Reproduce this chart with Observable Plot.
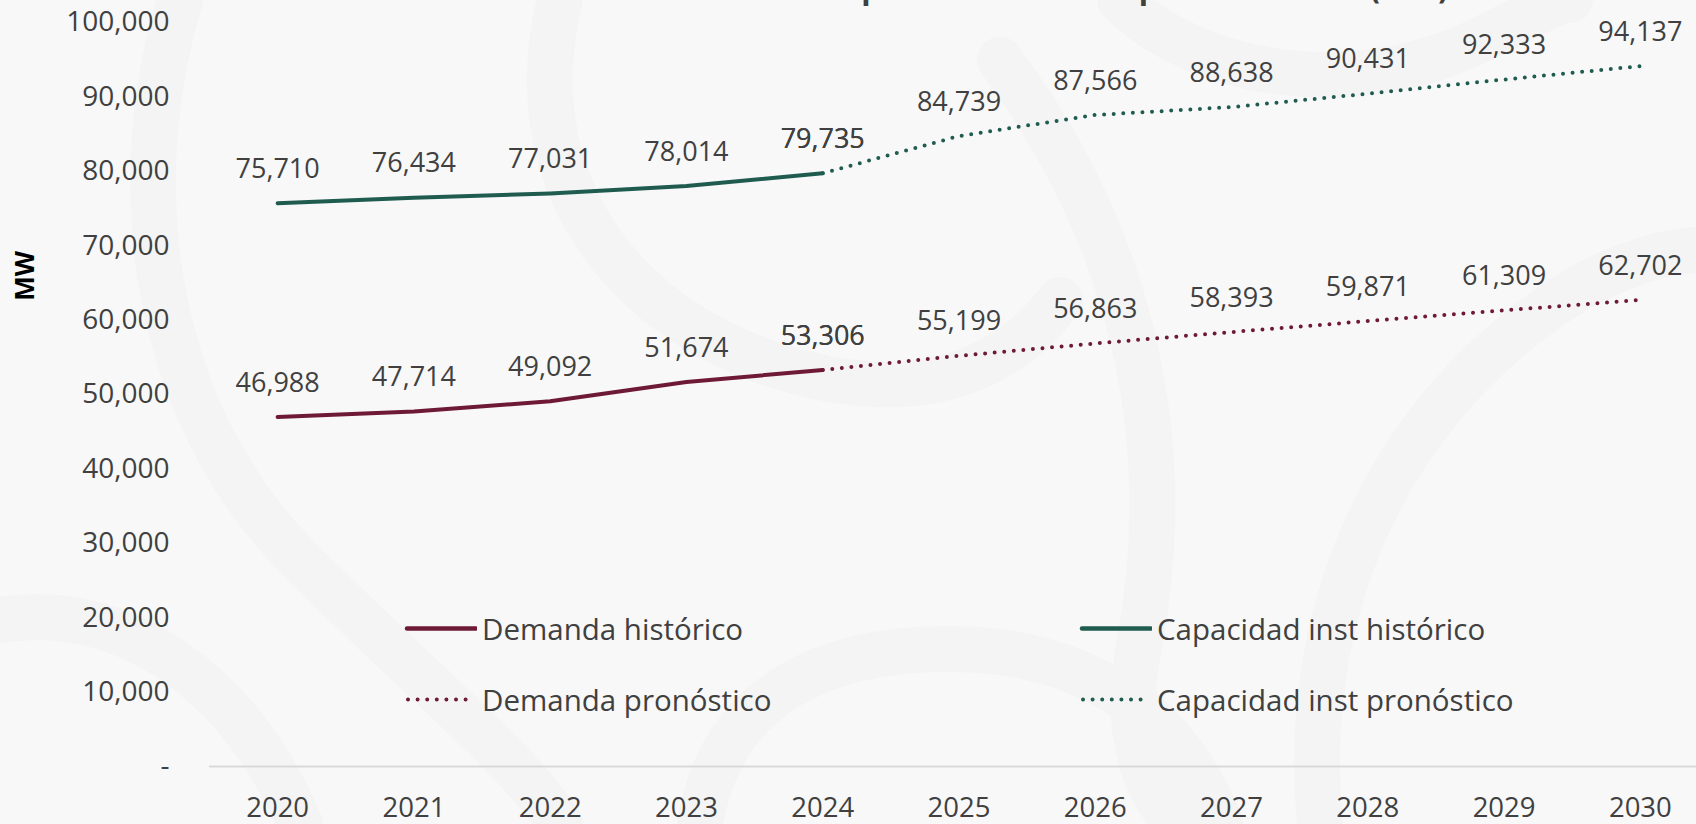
<!DOCTYPE html>
<html>
<head>
<meta charset="utf-8">
<script src="https://cdn.jsdelivr.net/npm/d3@7"></script>
<script src="https://cdn.jsdelivr.net/npm/@observablehq/plot@0.6"></script>
<style>
  html, body { margin: 0; padding: 0; background: #f8f8f8; overflow: hidden; }
  body { width: 1696px; height: 824px; position: relative; font-family: 'Open Sans', sans-serif; color: #404040; }
  #bg { position: absolute; left: 0; top: 0; }
  #chart { position: absolute; left: 0; top: 0; }
  #titlebox { position: absolute; left: 0; top: 0; }
  #mw { position: absolute; left: 24px; top: 276px; transform: translate(-50%, -50%) rotate(-90deg);
        font-size: 26px; font-weight: 700; color: #000; white-space: nowrap; }
  .leg { position: absolute; display: flex; align-items: center; font-size: 29.5px; color: #404040; white-space: nowrap; transform: translateY(-50%); }
  .leg svg { margin-right: 5px; }
</style>
</head>
<body>
<svg id="bg" width="1696" height="824"></svg>
<div id="chart"></div>
<svg id="titlebox" width="1696" height="40"></svg>
<div id="mw">MW</div>
<div id="legend"></div>
<script>
// ---- data ----
const years = [2020, 2021, 2022, 2023, 2024, 2025, 2026, 2027, 2028, 2029, 2030];
const histYears = [2020, 2021, 2022, 2023, 2024];
const pronYears = [2024, 2025, 2026, 2027, 2028, 2029, 2030];
const demandaHistorico = [46988, 47714, 49092, 51674, 53306];
const demandaPronostico = [53306, 55199, 56863, 58393, 59871, 61309, 62702];
const capacidadHistorico = [75710, 76434, 77031, 78014, 79735];
const capacidadPronostico = [79735, 84739, 87566, 88638, 90431, 92333, 94137];
const yTicks = [0, 10000, 20000, 30000, 40000, 50000, 60000, 70000, 80000, 90000, 100000];
const seriesNames = ["Demanda histórico", "Capacidad inst histórico", "Demanda pronóstico", "Capacidad inst pronóstico"];
const titleText = "Demanda máxima del SEN contra la capacidad instalada por escenarios (MW)";

const guinda = "#6E1A36";
const verde = "#1F5C4F";
const textColor = "#404040";

const toRows = (xs, vs) => xs.map((x, i) => ({x, v: vs[i]}));
const dH = toRows(histYears, demandaHistorico);
const dP = toRows(pronYears, demandaPronostico);
const cH = toRows(histYears, capacidadHistorico);
const cP = toRows(pronYears, capacidadPronostico);

const fmt = d3.format(",");
const yFmt = d => d === 0 ? "-" : fmt(d);

// faint watermark background (decorative)
const bg = d3.select("#bg");
const swirls = [
  "M180,0 C120,200 160,420 300,560 C420,680 520,760 560,824",
  "M560,0 C520,160 600,300 760,360 C900,410 1000,380 1060,300",
  "M1000,60 C1120,220 1180,420 1140,640 C1120,740 1150,800 1180,824",
  "M1320,824 C1300,620 1380,420 1560,300 C1620,260 1680,250 1696,250",
  "M0,620 C120,600 240,680 300,824",
  "M1120,0 C1200,80 1360,100 1480,40 C1530,15 1560,0 1570,0",
  "M700,824 C720,700 820,640 980,650 C1100,660 1180,720 1220,824"
];
bg.selectAll("path").data(swirls).join("path")
  .attr("d", d => d).attr("fill", "none").attr("stroke", "#f4f4f4").attr("stroke-width", 46).attr("stroke-linecap", "round");

// title (cropped at the top, as in the reference)
d3.select("#titlebox").append("text")
  .attr("x", 862).attr("y", -3).attr("text-anchor", "middle")
  .attr("textLength", 1173).attr("lengthAdjust", "spacingAndGlyphs")
  .attr("font-family", "'Open Sans', sans-serif").attr("font-weight", 700).attr("font-size", 40)
  .attr("fill", textColor).text(titleText);

const dotted = {strokeWidth: 4, strokeDasharray: "0 9.6", strokeLinecap: "round"};
const labelOpts = {x: "x", y: "v", text: d => fmt(d.v), dy: -34, fill: textColor, fontSize: 27};

const chart = Plot.plot({
  width: 1696,
  height: 824,
  marginLeft: 209,
  marginRight: 0,
  marginTop: 22,
  marginBottom: 58,
  x: {domain: [2019.5, 2030.5], range: [209, 1708]},
  y: {domain: [0, 100000], range: [766, 22]},
  style: {fontFamily: "'Open Sans', sans-serif", fontSize: "27px", color: textColor, background: "transparent", overflow: "visible"},
  marks: [
    Plot.ruleY([0], {stroke: "#d9d9d9", strokeWidth: 2}),
    Plot.axisX({ticks: years, tickFormat: d => String(d), tickSize: 0, tickPadding: 31, label: null, fontSize: 27.5}),
    Plot.axisY({ticks: yTicks, tickFormat: yFmt, tickSize: 0, tickPadding: 40, label: null, fontSize: 28}),
    Plot.line(dH, {x: "x", y: "v", stroke: guinda, strokeWidth: 4, strokeLinecap: "round"}),
    Plot.line(cH, {x: "x", y: "v", stroke: verde, strokeWidth: 4, strokeLinecap: "round"}),
    Plot.line(dP, {x: "x", y: "v", stroke: guinda, ...dotted}),
    Plot.line(cP, {x: "x", y: "v", stroke: verde, ...dotted}),
    Plot.text(dH, labelOpts),
    Plot.text(dP, labelOpts),
    Plot.text(cH, labelOpts),
    Plot.text(cP, labelOpts)
  ]
});
document.getElementById("chart").append(chart);

// ---- legend (HTML overlay) ----
const legendItems = [
  {name: seriesNames[0], color: guinda, dash: false, left: 404, top: 628},
  {name: seriesNames[1], color: verde, dash: false, left: 1079, top: 628},
  {name: seriesNames[2], color: guinda, dash: true, left: 404, top: 699},
  {name: seriesNames[3], color: verde, dash: true, left: 1079, top: 699}
];
const legend = document.getElementById("legend");
for (const it of legendItems) {
  const div = document.createElement("div");
  div.className = "leg";
  div.style.left = it.left + "px";
  div.style.top = it.top + "px";
  const w = 73;
  const line = it.dash
    ? `<line x1="4" y1="5" x2="${w - 2}" y2="5" stroke="${it.color}" stroke-width="4" stroke-dasharray="0 9.6" stroke-linecap="round"/>`
    : `<line x1="3" y1="5" x2="${w - 1}" y2="5" stroke="${it.color}" stroke-width="4.5" stroke-linecap="round"/>`;
  div.innerHTML = `<svg width="${w}" height="10">${line}</svg><span>${it.name}</span>`;
  legend.append(div);
}
</script>
</body>
</html>
